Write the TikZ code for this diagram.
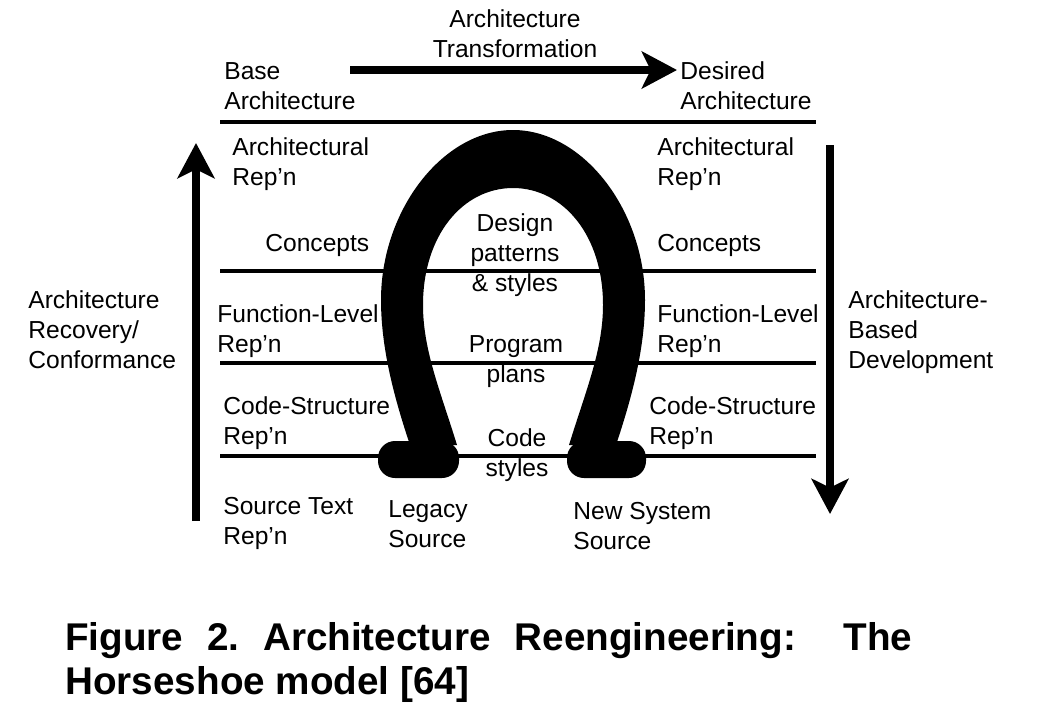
\documentclass[tikz,border=0pt]{standalone}
\usepackage{fontspec}
\setmainfont{Liberation Sans}
\usetikzlibrary{arrows.meta}
\begin{document}
\begin{tikzpicture}[x=0.02cm,y=-0.02cm,
  lbl/.style={anchor=base west, inner sep=0pt, align=left, font=\fontsize{14}{17}\selectfont},
  clbl/.style={anchor=base, inner sep=0pt, align=center, font=\fontsize{14}{17}\selectfont},
  rule/.style={line width=2pt},
  bigarrow/.style={line width=5pt, -{Stealth[length=20pt,width=21pt,inset=5pt]}},
  shoe/.style={fill=black, draw=none}]
\useasboundingbox (0,0) rectangle (1038,725);
\fill[white] (0,0) rectangle (1038,725);
% rules
\coordinate (r1a) at (220,122); \coordinate (r1b) at (816,122);
\coordinate (r2a) at (220,271); \coordinate (r2b) at (816,271);
\coordinate (r3a) at (220,363); \coordinate (r3b) at (816,363);
\coordinate (r4a) at (220,456); \coordinate (r4b) at (816,456);
\draw[rule] (r1a) -- (r1b);
\draw[rule] (r2a) -- (r2b);
\draw[rule] (r3a) -- (r3b);
\draw[rule] (r4a) -- (r4b);
% arrows
\coordinate (ta) at (350,70); \coordinate (tb) at (677,70);
\coordinate (lb) at (196,521); \coordinate (lt) at (196,143);
\coordinate (rt) at (830,145); \coordinate (rb) at (830,514);
\draw[bigarrow] (ta) -- (tb);
\draw[bigarrow] (lb) -- (lt);
\draw[bigarrow] (rt) -- (rb);
% horseshoe
\path[shoe] (410,445) .. controls (395,400) and (381,350) .. (381,300)
  .. controls (381,210) and (443,130) .. (513,130)
  .. controls (583,130) and (645,210) .. (645,300)
  .. controls (645,350) and (631,400) .. (616,445)
  -- (569,445) .. controls (586,390) and (603,350) .. (603,305)
  .. controls (603,235) and (563,188) .. (513,188)
  .. controls (463,188) and (423,235) .. (423,305)
  .. controls (423,350) and (440,390) .. (457,445) -- cycle;
\path[shoe, rounded corners=0.34cm] (378,441) rectangle (459,478);
\path[shoe, rounded corners=0.34cm] (567,441) rectangle (646,478);
% labels (anchor = baseline of last line)
\node[clbl] (trans) at (515,57) {Architecture\\Transformation};
\node[lbl] (base) at (224,109) {Base\\Architecture};
\node[lbl] (desired) at (680,109) {Desired\\Architecture};
\node[lbl] (archL) at (232,185) {Architectural\\Rep'n};
\node[lbl] (archR) at (657,185) {Architectural\\Rep'n};
\node[lbl] (concL) at (265,251) {Concepts};
\node[lbl] (concR) at (657,251) {Concepts};
\node[clbl] (design) at (515,291) {Design\\patterns\\\& styles};
\node[lbl] (recov) at (28,368) {Architecture\\Recovery/\\Conformance};
\node[lbl] (funcL) at (217,352) {Function-Level\\Rep'n};
\node[lbl] (funcR) at (657,352) {Function-Level\\Rep'n};
\node[lbl] (abd) at (848,368) {Architecture-\\Based\\Development};
\node[clbl] (prog) at (516,382) {Program\\plans};
\node[lbl] (codeL) at (223,444) {Code-Structure\\Rep'n};
\node[lbl] (codeR) at (649,444) {Code-Structure\\Rep'n};
\node[clbl] (cstyle) at (517,476) {Code\\styles};
\node[lbl] (src) at (223,544) {Source Text\\Rep'n};
\node[lbl] (legacy) at (388,547) {Legacy\\Source};
\node[lbl] (newsys) at (573,549) {New System\\Source};
\node[anchor=base west, inner sep=0pt, text width=16.94cm, align=justify,
  font=\bfseries\fontsize{22}{25.5}\selectfont] (cap) at (65,650)
  {\frenchspacing Figure 2. Architecture Reengineering:~ The\linebreak Horseshoe model [64]};
\end{tikzpicture}
\end{document}
